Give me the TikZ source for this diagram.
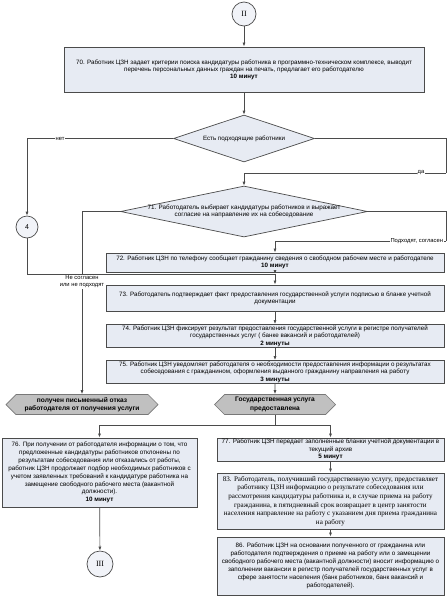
\documentclass[tikz,border=0pt]{standalone}
\usepackage{fontspec}
\setmainfont{Liberation Sans}
\newfontfamily\romanface{Liberation Serif}
\usetikzlibrary{arrows.meta, shapes.geometric, shapes.symbols}

\definecolor{boxfill}{RGB}{231,235,243}
\definecolor{boxline}{RGB}{75,75,75}
\definecolor{signfill}{RGB}{192,192,192}
\definecolor{signline}{RGB}{120,120,120}

\tikzset{
    taskbox/.style={draw=boxline, fill=boxfill, line width=0.9pt, align=center, inner sep=1pt,
        font=\fontsize{6.25}{7}\selectfont},
    checkdiamond/.style={diamond, draw=boxline, fill=boxfill, line width=0.7pt, inner sep=0pt},
    resultsign/.style={signal, signal to=west and east, signal pointer angle=90, draw=signline,
        fill=signfill, line width=0.7pt, align=center, inner sep=1pt,
        font=\bfseries\fontsize{6.6}{8.5}\selectfont},
    linkcircle/.style={circle, draw=boxline, fill=boxfill!60!white, line width=0.7pt, inner sep=0pt},
    branchlabel/.style={fill=white, inner sep=0.8pt, align=center, font=\fontsize{5.8}{7}\selectfont},
    flow/.style={line width=0.7pt, draw=boxline}
}

\begin{document}
\begin{tikzpicture}[x=1pt, y=-1pt, >={Latex[length=4pt, width=3pt]}]

    \useasboundingbox[fill=white] (0,0) rectangle (447,600);

    \def\colX{275}
    \def\rightX{446}
    \def\boxW{338pt}

    % connectors at the top
    \node[linkcircle, minimum size=24pt, font=\romanface\fontsize{8}{8}\selectfont] (linkII) at (244,14) {II};

    \node[taskbox, minimum width=360pt, minimum height=45pt] (step70) at (244,69.5)
        {70. Работник ЦЗН задает критерии поиска кандидатуры работника в программно-техническом комплексе, выводит\\
         перечень персональных данных граждан на печать, предлагает его работодателю\\
         \textbf{10 минут}};

    % decisions
    \node[checkdiamond, minimum width=141pt, minimum height=47pt,
        label={[font=\fontsize{6.2}{7}\selectfont]center:Есть подходящие работники}] (hasWorkers) at (244,138.5) {};

    \node[checkdiamond, minimum width=247pt, minimum height=51pt,
        label={[align=center, font=\fontsize{6.3}{7.5}\selectfont]center:{71. Работодатель выбирает кандидатуры работников и выражает\\согласие на направление их на собеседование}}] (chooseWorkers) at (244,211.5) {};

    \node[linkcircle, minimum size=22pt, font=\fontsize{7}{7}\selectfont] (link4) at (27,227) {4};

    % main column
    \node[taskbox, minimum width=\boxW, minimum height=19pt] (step72) at (\colX,262.5)
        {72. Работник ЦЗН  по телефону сообщает гражданину сведения о свободном рабочем месте и работодателе\\
         \textbf{10 минут}};

    \node[taskbox, minimum width=\boxW, minimum height=26pt] (step73) at (\colX,298)
        {73. Работодатель подтверждает факт предоставления государственной услуги подписью в бланке учетной\\
         документации};

    \node[taskbox, minimum width=\boxW, minimum height=22pt, font=\fontsize{6.25}{7.5}\selectfont] (step74) at (\colX,336)
        {74. Работник ЦЗН фиксирует результат предоставления государственной услуги в регистре получателей\\
         государственных услуг ( банке вакансий и работодателей)\\
         \textbf{2  минуты}};

    \node[taskbox, minimum width=\boxW, minimum height=22pt, font=\fontsize{6.25}{7.5}\selectfont] (step75) at (\colX,372)
        {75. Работник ЦЗН уведомляет работодателя о необходимости предоставления информации о результатах\\
         собеседования с гражданином, оформления выданного гражданину направления на работу\\
         \textbf{3 минуты}};

    % results
    \node[resultsign, minimum width=152pt, minimum height=20pt] (refusal) at (82,404.5)
        {получен письменный отказ\\работодателя от получения услуги};
    \node[resultsign, minimum width=121pt, minimum height=20pt] (provided) at (\colX,404.5)
        {Государственная услуга\\предоставлена};

    % bottom left
    \node[taskbox, minimum width=195pt, minimum height=69pt, font=\fontsize{6.3}{7.9}\selectfont] (step76) at (99.5,472.5)
        {76. При получении от работодателя  информации о том, что\\
         предложенные кандидатуры работников отклонены по\\
         результатам собеседования или отказались от работы,\\
         работник ЦЗН продолжает подбор необходимых работников с\\
         учетом заявленных требований к кандидатуре работника на\\
         замещение свободного рабочего места (вакантной\\
         должности).\\
         \textbf{10 минут}};

    \node[linkcircle, minimum size=26pt, font=\romanface\fontsize{8}{8}\selectfont] (linkIII) at (100,564) {III};

    % bottom right
    \node[taskbox, minimum width=227pt, minimum height=21pt, font=\fontsize{6.3}{7.5}\selectfont] (step77) at (330.5,449.5)
        {77. Работник ЦЗН передает заполненные бланки учетной документации в\\
         текущий архив\\
         \textbf{5 минут}};

    \node[taskbox, minimum width=227pt, minimum height=56pt, font=\romanface\fontsize{7.1}{8.6}\selectfont] (step83) at (330.5,501)
        {83. Работодатель, получивший государственную услугу, предоставляет\\
         работнику ЦЗН информацию о результате собеседования или\\
         рассмотрения кандидатуры работника и, в случае приема на работу\\
         гражданина, в пятидневный срок возвращает в центр занятости\\
         населения направление на работу с указанием дня приема гражданина\\
         на работу};

    \node[taskbox, minimum width=227pt, minimum height=58pt, font=\fontsize{6.3}{8}\selectfont] (step86) at (330.5,566)
        {86. Работник ЦЗН на основании полученного от гражданина или\\
         работодателя подтверждения о приеме на работу или о замещении\\
         свободного рабочего места (вакантной должности) вносит информацию о\\
         заполнении вакансии в регистр получателей государственных услуг в\\
         сфере занятости населения (банк работников, банк вакансий и\\
         работодателей).};

    % bends
    \coordinate (yesBend) at (\rightX,173);
    \coordinate (agreeBend) at (\rightX,241);
    \coordinate (join73) at (\colX,274);
    \coordinate (split) at (\colX,425);

    % arrows
    \draw[flow, ->] (linkII) -- (step70);
    \draw[flow, ->] (step70) -- (hasWorkers);
    \draw[flow, ->] (hasWorkers.west) -| (link4.north);
    \draw[flow] (hasWorkers.east) -| (yesBend);
    \draw[flow, ->] (yesBend) -| (chooseWorkers.north);
    \draw[flow] (chooseWorkers.east) -| (agreeBend);
    \draw[flow, ->] (agreeBend) -| (step72.north);
    \draw[flow, ->] (chooseWorkers.west) -| (refusal.north);
    \draw[flow] (link4.south) |- (join73);
    \draw[flow, ->] (step72.south) -- (join73);
    \draw[flow, ->] (join73) -- (step73.north);
    \draw[flow, ->] (step73) -- (step74);
    \draw[flow, ->] (step74) -- (step75);
    \draw[flow, ->] (step75) -- (provided);
    \draw[flow] (provided.south) -- (split);
    \draw[flow, ->] (split) -| (step76.north);
    \draw[flow, ->] (split) -| (step77.north);
    \draw[flow, ->] (step76) -- (linkIII);
    \draw[flow, ->] (step77) -- (step83);
    \draw[flow, ->] (step83) -- (step86);

    % branch labels
    \node[branchlabel] (lblNo) at (60,138.5) {нет};
    \node[branchlabel] (lblYes) at (421,173) {да};
    \node[branchlabel, anchor=east] (lblAgree) at (444,241) {Подходят, согласен};
    \node[branchlabel] (lblRefuse) at (82,282) {Не согласен\\или не подходят};

\end{tikzpicture}
\end{document}
